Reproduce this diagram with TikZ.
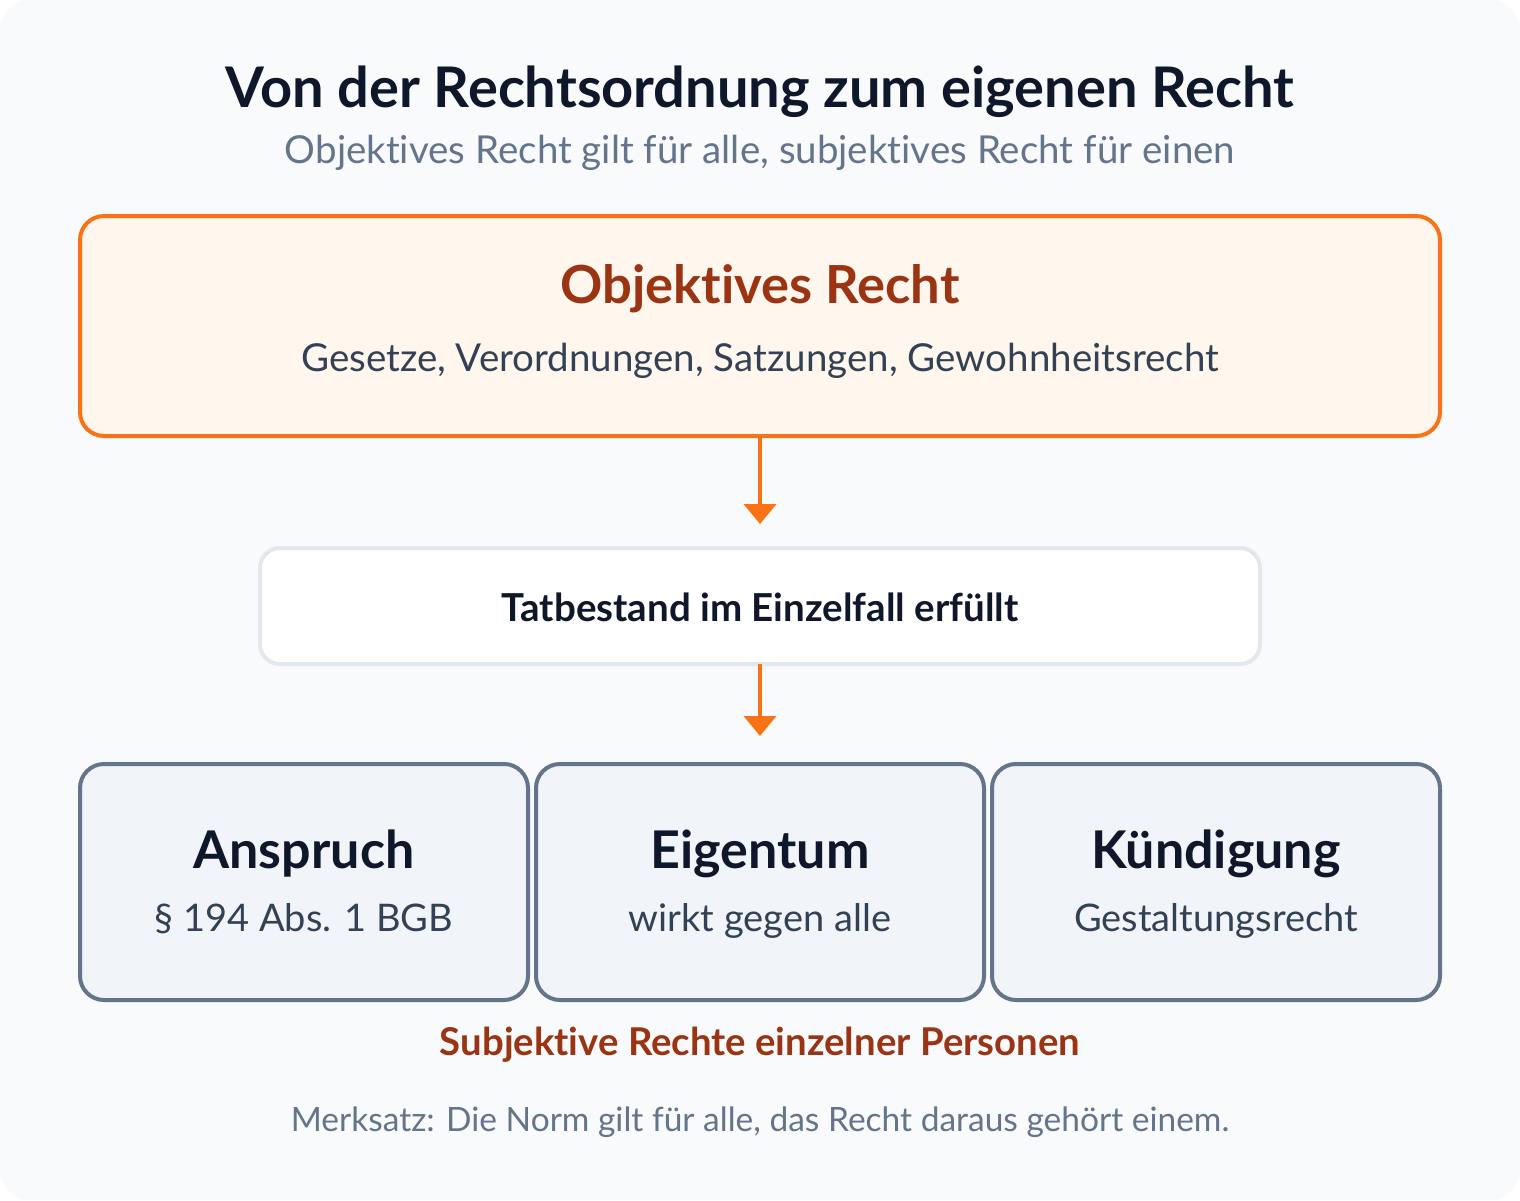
\documentclass[tikz,border=0pt]{standalone}
\usepackage{fontspec}
\setmainfont{Lato}[RawFeature={-liga}]
\usetikzlibrary{arrows.meta}
\definecolor{bg}{HTML}{F8FAFC}
\definecolor{ink}{HTML}{0F172A}
\definecolor{slate}{HTML}{64748B}
\definecolor{body}{HTML}{334155}
\definecolor{orange}{HTML}{F97316}
\definecolor{orangefill}{HTML}{FFF7ED}
\definecolor{rust}{HTML}{9A3412}
\definecolor{lightborder}{HTML}{E2E8F0}
\definecolor{cardfill}{HTML}{F1F5F9}
\tikzset{
  fs/.style={font=\fontsize{#1}{#1}\selectfont},
  bigbox/.style={draw=orange, line width=4pt, fill=orangefill, rounded corners=24pt},
  midbox/.style={draw=lightborder, line width=4pt, fill=white, rounded corners=20pt},
  card/.style={draw=slate, line width=4pt, fill=cardfill, rounded corners=24pt},
  flow/.style={draw=orange, line width=4pt, -{Triangle[length=20pt,width=32pt]}},
}
\begin{document}
\begin{tikzpicture}[x=1pt,y=-1pt]
\useasboundingbox (0,0) rectangle (1520,1200);
\fill[white] (0,0) rectangle (1520,1200);
\fill[bg, rounded corners=30pt] (0,0) rectangle (1520,1200);
\node[fs=56, text=ink, anchor=base] (title) at (760,107) {\bfseries Von der Rechtsordnung zum eigenen Recht};
\node[fs=38.5, text=slate, anchor=base] (sub) at (760,163) {Objektives Recht gilt für alle, subjektives Recht für einen};
\draw[bigbox] (80,216) rectangle (1440,436);
\coordinate (obot) at (760,436);
\node[fs=52.5, text=rust, anchor=base] (otitle) at (760,303) {\bfseries Objektives Recht};
\node[fs=38.5, text=body, anchor=base] (otext) at (760,371) {Gesetze, Verordnungen, Satzungen, Gewohnheitsrecht};
\draw[midbox] (260,548) rectangle (1260,664);
\coordinate (mtop) at (760,524);
\coordinate (mbot) at (760,664);
\node[fs=38.5, text=ink, anchor=base] (mtext) at (760,621) {\bfseries Tatbestand im Einzelfall erfüllt};
\coordinate (ctop) at (760,736);
\draw[flow] (obot) -- (mtop);
\draw[flow] (mbot) -- (ctop);
\draw[card] (80,764) rectangle (528,1000);
\draw[card] (536,764) rectangle (984,1000);
\draw[card] (992,764) rectangle (1440,1000);
\node[fs=52, text=ink, anchor=base] (c1t) at (304,868) {\bfseries Anspruch};
\node[fs=38, text=body, anchor=base] (c1s) at (304,931) {§ 194 Abs. 1 BGB};
\node[fs=52, text=ink, anchor=base] (c2t) at (760,868) {\bfseries Eigentum};
\node[fs=38, text=body, anchor=base] (c2s) at (760,931) {wirkt gegen alle};
\node[fs=52, text=ink, anchor=base] (c3t) at (1216,868) {\bfseries Kündigung};
\node[fs=38, text=body, anchor=base] (c3s) at (1216,931) {Gestaltungsrecht};
\node[fs=38.3, text=rust, anchor=base] (subj) at (760,1055) {\bfseries Subjektive Rechte einzelner Personen};
\node[fs=33.5, text=slate, anchor=base] (merk) at (760,1131) {Merksatz: Die Norm gilt für alle, das Recht daraus gehört einem.};
\end{tikzpicture}
\end{document}
